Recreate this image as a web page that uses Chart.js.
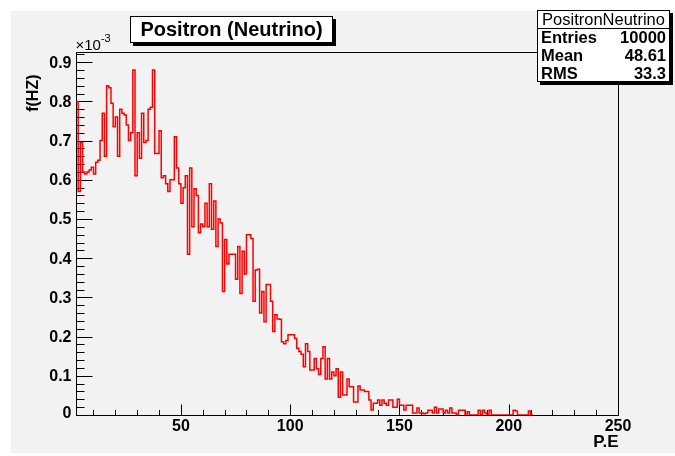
<!DOCTYPE html>
<html><head><meta charset="utf-8">
<script src="https://cdn.jsdelivr.net/npm/chart.js@4.4.0/dist/chart.umd.min.js"></script>
<style>html,body{margin:0;padding:0;background:#fff;}canvas{display:block;}</style>
</head><body>
<canvas id="c" width="675" height="456"></canvas>
<script>
// ---- chart texts ----
const histTitle = 'Positron (Neutrino)';
const statsName = 'PositronNeutrino';
const statsLabels = ['Entries', 'Mean', 'RMS'];
const statsValues = ['10000', '48.61', '33.3'];
const xTitle = 'P.E';
const yTitle = 'f(HZ)';
const yExponent = '-3';
// ---- tick labels ----
const xTickValues = [50, 100, 150, 200, 250];
const xTickLabels = ['50', '100', '150', '200', '250'];
const yTickValues = [0, 0.1, 0.2, 0.3, 0.4, 0.5, 0.6, 0.7, 0.8, 0.9];
const yTickLabels = ['0', '0.1', '0.2', '0.3', '0.4', '0.5', '0.6', '0.7', '0.8', '0.9'];
// ---- histogram: bins of width 1 starting at P.E = 2, contents in units of 1e-3 Hz ----
const binStart = 2;
const binWidth = 1;
const binContents = [
  0.80, 0.57, 0.695, 0.62, 0.615, 0.62, 0.625, 0.632, 0.615, 0.645,
  0.65, 0.70, 0.77, 0.66, 0.84, 0.835, 0.795, 0.735, 0.76, 0.66,
  0.78, 0.77, 0.765, 0.74, 0.70, 0.72, 0.88, 0.61, 0.72, 0.655,
  0.77, 0.695, 0.70, 0.78, 0.785, 0.88, 0.667, 0.667, 0.725, 0.605,
  0.61, 0.59, 0.57, 0.60, 0.60, 0.71, 0.63, 0.59, 0.54, 0.58,
  0.61, 0.41, 0.63, 0.48, 0.577, 0.56, 0.465, 0.487, 0.48, 0.54,
  0.48, 0.59, 0.474, 0.546, 0.43, 0.50, 0.49, 0.315, 0.448, 0.385,
  0.41, 0.41, 0.41, 0.346, 0.43, 0.31, 0.418, 0.36, 0.46, 0.46,
  0.45, 0.29, 0.37, 0.372, 0.26, 0.315, 0.238, 0.333, 0.333, 0.29,
  0.213, 0.256, 0.245, 0.244, 0.187, 0.182, 0.19, 0.205, 0.205, 0.205,
  0.195, 0.17, 0.162, 0.155, 0.123, 0.182, 0.162, 0.115, 0.115, 0.144,
  0.118, 0.103, 0.144, 0.174, 0.092, 0.144, 0.092, 0.11, 0.10, 0.118,
  0.045, 0.11, 0.051, 0.051, 0.092, 0.072, 0.072, 0.033, 0.033, 0.074,
  0.064, 0.064, 0.06, 0.06, 0.038, 0.013, 0.03, 0.03, 0.038, 0.025,
  0.038, 0.03, 0.025, 0.038, 0.038, 0.02, 0.02, 0.04, 0.025, 0.025,
  0.013, 0.025, 0.025, 0.025, 0.005, 0.005, 0.018, 0.005, 0.005, 0.003,
  0.005, 0.012, 0.012, 0.005, 0.02, 0.005, 0.015, 0.015, 0.005, 0.012,
  0.005, 0.018, 0.005, 0.005, 0, 0.012, 0.012, 0.012, 0, 0.008,
  0, 0, 0, 0, 0.012, 0, 0.012, 0.005, 0, 0.012,
  0, 0, 0, 0, 0, 0, 0, 0, 0, 0,
  0.012, 0.01, 0, 0, 0, 0, 0, 0.01, 0
];
const xRange = [2, 250];
const yRange = [0, 0.926];

// build step points: each bin's low edge carries its content, plus closing edge
const points = binContents.map((v, i) => ({ x: binStart + i * binWidth, y: v }));
points.push({ x: binStart + binContents.length * binWidth, y: binContents[binContents.length - 1] });

const FONT = '"Liberation Sans", Arial, Helvetica, sans-serif';

const rootPlugin = {
  id: 'rootStyle',
  beforeDraw(chart) {
    const ctx = chart.ctx;
    ctx.save();
    ctx.fillStyle = '#ffffff';
    ctx.fillRect(0, 0, chart.width, chart.height);
    ctx.fillStyle = '#f2f2f2';
    ctx.fillRect(11, 11, chart.width - 11, chart.height - 14);
    ctx.restore();
  },
  beforeDatasetsDraw(chart) {
    const ctx = chart.ctx, a = chart.chartArea;
    const xs = chart.scales.x, ys = chart.scales.y;
    ctx.save();
    ctx.strokeStyle = '#000';
    ctx.lineWidth = 1;
    const L = Math.round(a.left) + 0.5, R = Math.round(a.right) + 0.5;
    const T = Math.round(a.top) + 0.5, B = Math.round(a.bottom) + 0.5;
    ctx.strokeRect(L, T, R - L, B - T);
    // y ticks (inside frame)
    ctx.beginPath();
    for (let k = 0; k * 0.02 <= yRange[1] + 1e-9; k++) {
      const y = Math.round(ys.getPixelForValue(k * 0.02)) + 0.5;
      const len = (k % 5 === 0) ? 16 : 8;
      ctx.moveTo(L, y); ctx.lineTo(L + len, y);
    }
    // x ticks
    for (let k = 1; k * 10 <= xRange[1]; k++) {
      const x = Math.round(xs.getPixelForValue(k * 10)) + 0.5;
      const len = (k % 5 === 0) ? 11 : 5.5;
      ctx.moveTo(x, B); ctx.lineTo(x, B - len);
    }
    ctx.stroke();
    // tick labels
    ctx.fillStyle = '#000';
    ctx.font = 'bold 16px ' + FONT;
    ctx.textAlign = 'right';
    ctx.textBaseline = 'middle';
    yTickValues.forEach((v, i) => {
      const y = Math.min(ys.getPixelForValue(v), B - 3);
      ctx.fillText(yTickLabels[i], L - 5, y + 1);
    });
    ctx.textAlign = 'center';
    ctx.textBaseline = 'top';
    xTickValues.forEach((v, i) => ctx.fillText(xTickLabels[i], xs.getPixelForValue(v), B + 3));
    // axis titles
    ctx.font = 'bold 17px ' + FONT;
    ctx.textAlign = 'right';
    ctx.textBaseline = 'alphabetic';
    ctx.fillText(xTitle, R, B + 31);
    ctx.font = 'bold 16px ' + FONT;
    ctx.save();
    ctx.translate(38, T + 22);
    ctx.rotate(-Math.PI / 2);
    ctx.textAlign = 'right';
    ctx.fillText(yTitle, 0, 0);
    ctx.restore();
    // exponent
    ctx.font = '15px ' + FONT;
    ctx.textAlign = 'left';
    ctx.fillText('\u00d710', L - 1, T - 3);
    const w = ctx.measureText('\u00d710').width;
    ctx.font = '11px ' + FONT;
    ctx.fillText(yExponent, L - 1 + w, T - 11);
    ctx.restore();
  },
  afterDraw(chart) {
    const ctx = chart.ctx;
    ctx.save();
    function pave(x, y, w, h) {
      ctx.fillStyle = '#000';
      ctx.fillRect(x + 3, y + 3, w, h);
      ctx.fillStyle = '#fff';
      ctx.fillRect(x, y, w, h);
      ctx.strokeStyle = '#000';
      ctx.lineWidth = 1;
      ctx.strokeRect(x + 0.5, y + 0.5, w - 1, h - 1);
    }
    // title box
    pave(130, 16, 203, 27);
    ctx.fillStyle = '#000';
    ctx.font = 'bold 20px ' + FONT;
    ctx.textAlign = 'center';
    ctx.textBaseline = 'middle';
    ctx.fillText(histTitle, 231.5, 30);
    // stats box
    pave(537, 10, 133, 72);
    ctx.beginPath();
    ctx.moveTo(537, 28.5); ctx.lineTo(669, 28.5);
    ctx.stroke();
    ctx.fillStyle = '#000';
    ctx.font = '16.5px ' + FONT;
    ctx.textAlign = 'center';
    ctx.fillText(statsName, 603.5, 20);
    ctx.font = 'bold 16.5px ' + FONT;
    const rowsY = [38, 56, 74];
    statsLabels.forEach((s, i) => {
      ctx.textAlign = 'left';
      ctx.fillText(s, 541, rowsY[i]);
      ctx.textAlign = 'right';
      ctx.fillText(statsValues[i], 666, rowsY[i]);
    });
    ctx.restore();
  }
};

new Chart(document.getElementById('c'), {
  type: 'line',
  data: {
    datasets: [{
      label: histTitle,
      data: points,
      stepped: 'before',
      borderColor: '#ff0000',
      borderWidth: 1.5,
      pointRadius: 0,
      fill: false,
      tension: 0
    }]
  },
  options: {
    responsive: false,
    animation: false,
    events: [],
    layout: { padding: { left: 76, top: 52, right: 57, bottom: 41 } },
    plugins: { legend: { display: false }, tooltip: { enabled: false }, title: { display: false } },
    scales: {
      x: { type: 'linear', min: xRange[0], max: xRange[1], display: false },
      y: { type: 'linear', min: yRange[0], max: yRange[1], display: false }
    }
  },
  plugins: [rootPlugin]
});
</script>
</body></html>
